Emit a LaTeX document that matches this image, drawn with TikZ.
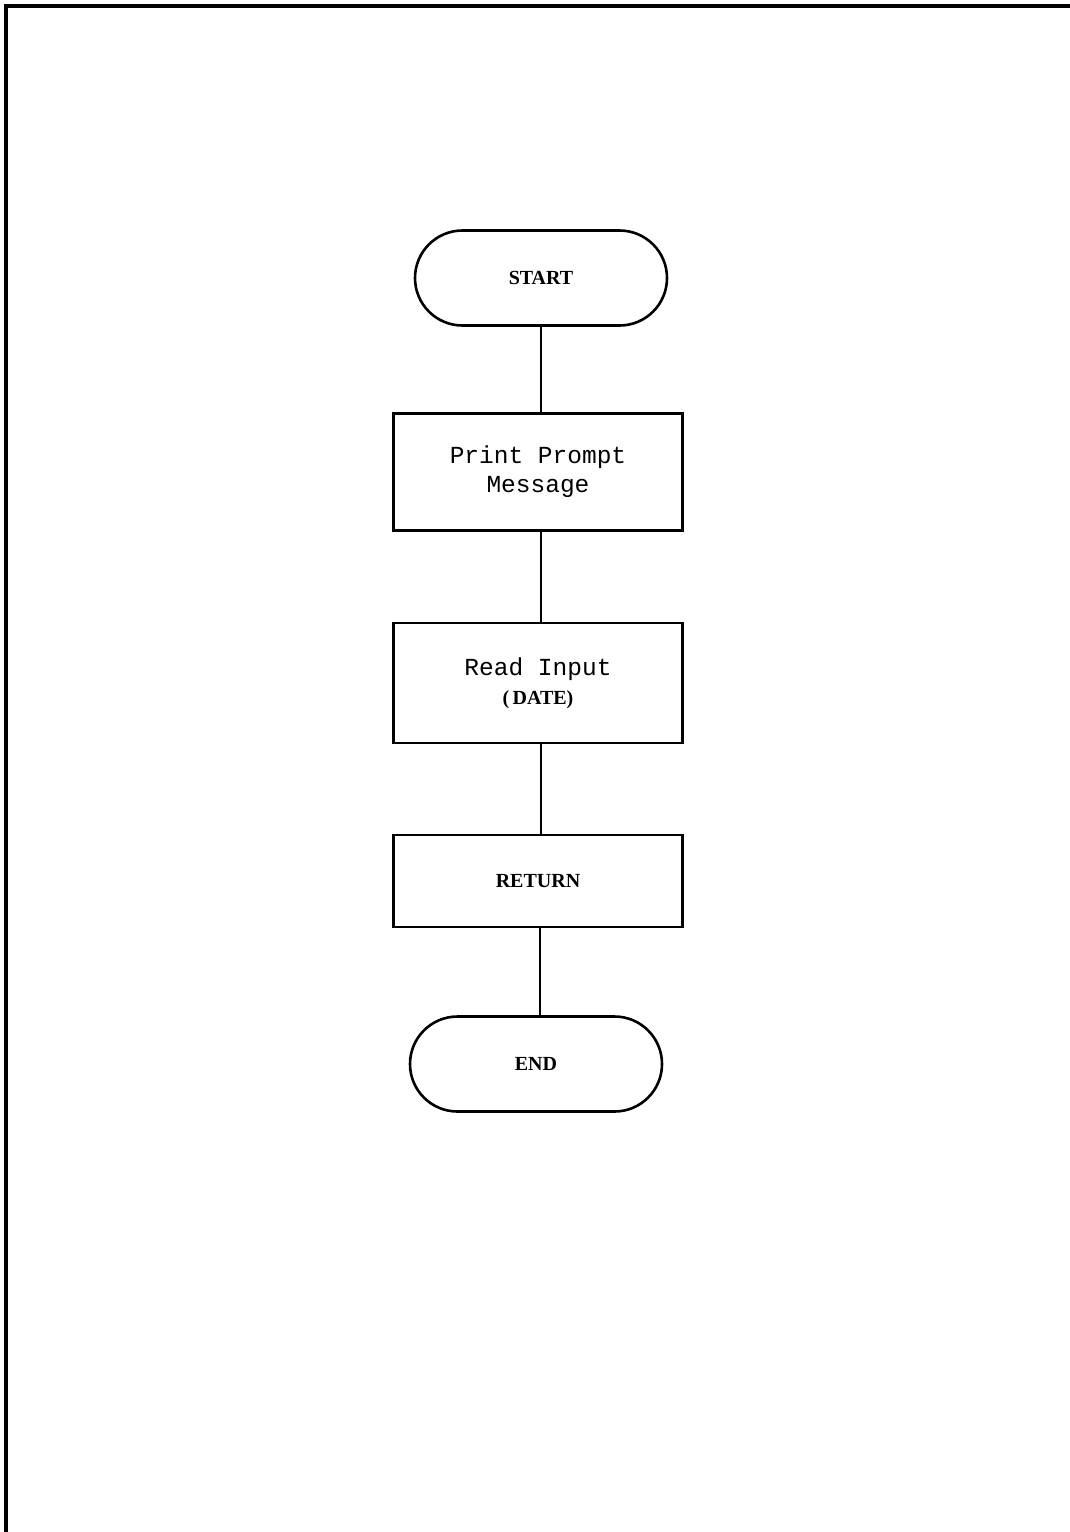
\documentclass[tikz,border=0pt]{standalone}
\usepackage{fontspec}
\setmainfont{Liberation Serif}
\newfontfamily\flowmono{Liberation Mono}
\usetikzlibrary{shapes.misc}

\tikzset{
  frameline/.style={line width=3.2pt, line cap=rect},
  flowline/.style={line width=2.6pt},
  capfont/.style={font=\bfseries\fontsize{20}{26}\selectfont},
  terminal/.style={draw, line width=2.6pt, rounded rectangle,
    minimum width=252pt, minimum height=95pt, inner sep=0pt, capfont},
  process/.style={draw, line width=2.6pt, rectangle,
    minimum width=289pt, inner sep=0pt, align=center},
  monotext/.style={font=\flowmono\fontsize{24.5}{29}\selectfont}
}

\begin{document}
\begin{tikzpicture}[x=1pt,y=-1pt]
  \useasboundingbox (0,0) rectangle (1069,1532);
  \fill[white] (0,0) rectangle (1069,1532);

  % page frame (left and top edges)
  \coordinate (fTL) at (6,6);
  \coordinate (fTR) at (1069,6);
  \coordinate (fBL) at (6,1532);
  \draw[frameline] (fBL) -- (fTL) -- (fTR);

  % flowchart
  \node[terminal] (start) at (541,278) {START};
  \node[process, minimum height=117pt, monotext] (prompt) at (538,472)
       {Print Prompt\\Message};
  \node[process, minimum height=120pt, monotext] (read) at (538,683)
       {Read Input\\{\bfseries\rmfamily\fontsize{20}{26}\selectfont(\,DATE)}};
  \node[process, minimum height=92pt, capfont] (ret) at (538,881) {RETURN};
  \node[terminal] (finish) at (536,1064) {END};

  \draw[flowline] (start.south -| 541,0) -- (prompt.north -| 541,0);
  \draw[flowline] (prompt.south -| 541,0) -- (read.north -| 541,0);
  \draw[flowline] (read.south -| 541,0) -- (ret.north -| 541,0);
  \draw[flowline] (ret.south -| 540,0) -- (finish.north -| 540,0);
\end{tikzpicture}
\end{document}
